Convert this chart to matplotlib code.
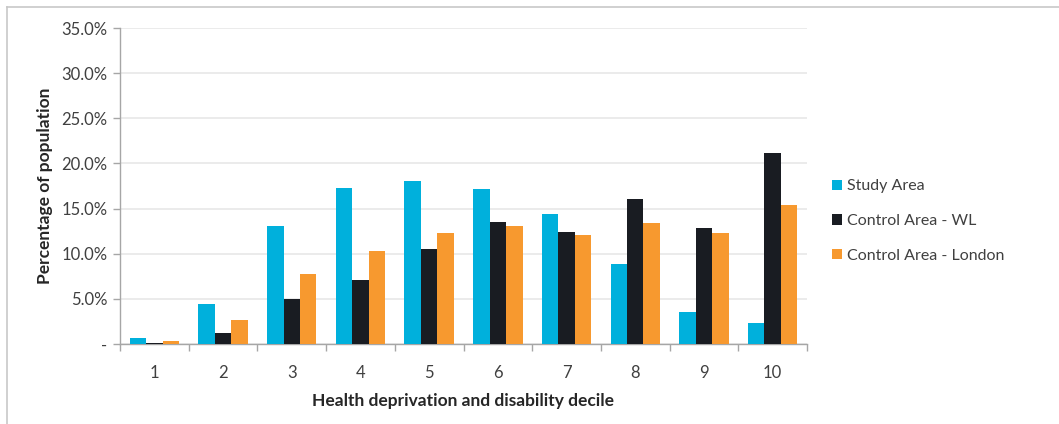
import matplotlib
matplotlib.use("Agg")
import matplotlib.pyplot as plt
import numpy as np
from matplotlib.lines import Line2D
from matplotlib.ticker import FuncFormatter, FixedLocator

plt.rcParams['font.family'] = ['Lato', 'DejaVu Sans']

deciles = ["1", "2", "3", "4", "5", "6", "7", "8", "9", "10"]
study_area = [0.7, 4.4, 13.1, 17.3, 18.0, 17.2, 14.4, 8.9, 3.5, 2.3]
control_wl = [0.15, 1.2, 5.0, 7.1, 10.5, 13.5, 12.4, 16.1, 12.8, 21.1]
control_london = [0.35, 2.7, 7.8, 10.3, 12.3, 13.1, 12.1, 13.4, 12.3, 15.4]
series_names = ["Study Area", "Control Area - WL", "Control Area - London"]
colors = ["#00B0DC", "#191C22", "#F7992F"]
y_ticks = [0, 5, 10, 15, 20, 25, 30, 35]

W, H = 1059, 424
fig = plt.figure(figsize=(W / 100, H / 100), dpi=100)
ax = fig.add_axes([120 / W, 1 - 344 / H, 687 / W, 316 / H])

x = np.arange(len(deciles))
bw = 0.24
for i, (vals, name, c) in enumerate(zip([study_area, control_wl, control_london], series_names, colors)):
    ax.bar(x + (i - 1) * bw, vals, width=bw, color=c, label=name, zorder=3)

ax.set_xlim(-0.5, len(deciles) - 0.5)
ax.set_ylim(0, 35)
ax.set_yticks(y_ticks)
ax.yaxis.set_major_formatter(FuncFormatter(lambda v, p: "-" if v == 0 else f"{v:.1f}%"))
ax.set_xticks(x)
ax.set_xticklabels(deciles)
ax.xaxis.set_minor_locator(FixedLocator(np.arange(-0.5, len(deciles), 1.0)))
ax.tick_params(axis='x', which='major', length=0, pad=15, labelsize=12, labelcolor="#404040")
ax.tick_params(axis='x', which='minor', length=5, color="#A6A6A6", width=1)
ax.tick_params(axis='y', length=5, color="#A6A6A6", width=1, pad=4, labelsize=12, labelcolor="#404040")

ax.grid(axis='y', color="#E8E8E8", linewidth=1.2, zorder=0)
for s in ["top", "right"]:
    ax.spines[s].set_visible(False)
for s in ["left", "bottom"]:
    ax.spines[s].set_color("#A6A6A6")
    ax.spines[s].set_linewidth(1)

ax.set_ylabel("Percentage of population", fontsize=12.5, fontweight='bold', color="#262626", labelpad=6)
ax.set_xlabel("Health deprivation and disability decile", fontsize=12.5, fontweight='bold', color="#262626", labelpad=9)

leg = fig.legend(loc='upper left', bbox_to_anchor=(826 / W, 1 - 173 / H), frameon=False,
                 fontsize=11.5, handlelength=0.6, handleheight=0.6, handletextpad=0.3,
                 labelspacing=1.3, borderaxespad=0)
for t in leg.get_texts():
    t.set_color("#404040")

# outer border
fig.add_artist(Line2D([7 / W, 7 / W], [0, 1 - 7 / H], color="#C8C8C8", linewidth=1.2))
fig.add_artist(Line2D([7 / W, 1], [1 - 7 / H, 1 - 7 / H], color="#C8C8C8", linewidth=1.2))

fig.savefig("out.png", dpi=100)
